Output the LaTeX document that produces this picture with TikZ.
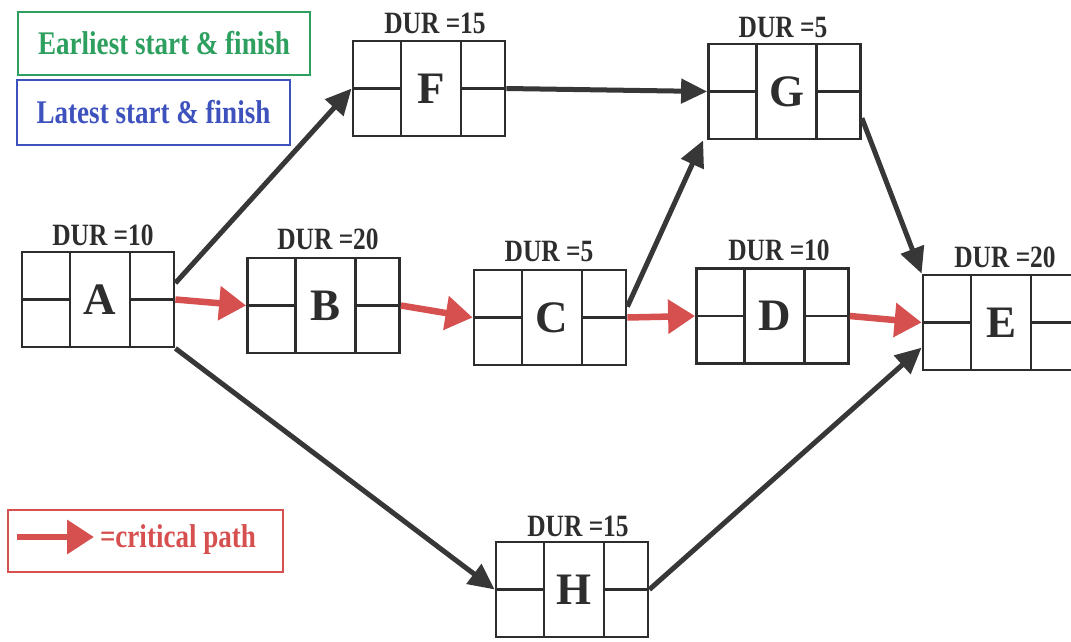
\documentclass[tikz,border=0pt]{standalone}
\usepackage{fontspec}
\usepackage{graphicx}
\setmainfont{Liberation Serif}
\usetikzlibrary{arrows.meta}
\definecolor{boxcol}{RGB}{45,45,45}
\definecolor{arrcol}{RGB}{55,55,55}
\definecolor{critred}{RGB}{214,80,80}
\definecolor{leggreen}{RGB}{45,160,95}
\definecolor{legblue}{RGB}{62,82,190}
\newcommand\durfont{\bfseries\fontsize{31}{34}\selectfont}
\newcommand\letterfont{\bfseries\fontsize{45}{50}\selectfont}
\newcommand\legfont{\bfseries\fontsize{33}{36}\selectfont}
\newcommand\cond[1]{\scalebox{0.82}[1]{#1}}
\tikzset{
  actbox/.style={draw=boxcol, line width=2.8pt, minimum width=152pt, minimum height=95pt,
    inner sep=0pt, font=\letterfont, text=boxcol,
    path picture={
      \draw[boxcol, line width=2.6pt]
        ([xshift=48pt]path picture bounding box.north west) -- ([xshift=48pt]path picture bounding box.south west)
        ([xshift=-44pt]path picture bounding box.north east) -- ([xshift=-44pt]path picture bounding box.south east)
        (path picture bounding box.west) -- ([xshift=48pt]path picture bounding box.west)
        ([xshift=-44pt]path picture bounding box.east) -- (path picture bounding box.east);
    }},
  durlbl/.style={anchor=south, inner sep=0pt, font=\durfont, text=boxcol},
  legbox/.style={line width=2.6pt, inner sep=0pt, font=\legfont},
  blackarrow/.style={draw=arrcol, line width=5pt, -{Triangle[length=26pt,width=24pt]}},
  redarrow/.style={draw=critred, line width=6.5pt, -{Triangle[length=27pt,width=33pt]}},
}
\begin{document}
\begin{tikzpicture}[x=1pt,y=-1pt]
\useasboundingbox (0,0) rectangle (1071,642);
\clip (0,0) rectangle (1071,642);
\fill[white] (0,0) rectangle (1071,642);

% legend
\node[legbox, draw=leggreen, text=leggreen, minimum width=292pt, minimum height=63pt] (early) at (164,43.5) {\cond{Earliest start \& finish}};
\node[legbox, draw=legblue, text=legblue, minimum width=273pt, minimum height=65pt] (late) at (153.5,112.5) {\cond{Latest start \& finish}};
\node[legbox, draw=critred, minimum width=275pt, minimum height=62pt] (crit) at (145.5,541) {};
\coordinate (cpa) at (17,537);
\coordinate (cpb) at (94,537);
\draw[redarrow] (cpa) -- (cpb);
\node[inner sep=0pt, font=\legfont, text=critred] (cptxt) at (178,540) {\cond{=critical path}};

% activity nodes
\node[actbox] (A) at (98,299.5) {\hspace*{4pt}A};
\node[actbox] (B) at (323.5,305.5) {\hspace*{4pt}B};
\node[actbox] (C) at (550,317.5) {\hspace*{4pt}C};
\node[actbox] (D) at (772.5,316) {\hspace*{4pt}D};
\node[actbox] (E) at (999,322.5) {\hspace*{4pt}E};
\node[actbox] (F) at (429,88.5) {\hspace*{4pt}F};
\node[actbox] (G) at (784.5,91.5) {\hspace*{4pt}G};
\node[actbox] (H) at (572,589.5) {\hspace*{4pt}H};

% duration labels
\node[durlbl] (Adur) at ([xshift=5pt,yshift=5pt]A.north) {\cond{DUR =10}};
\node[durlbl] (Bdur) at ([xshift=4.5pt,yshift=7pt]B.north) {\cond{DUR =20}};
\node[durlbl] (Cdur) at ([xshift=-1pt,yshift=7pt]C.north) {\cond{DUR =5}};
\node[durlbl] (Ddur) at ([xshift=6.5pt,yshift=6pt]D.north) {\cond{DUR =10}};
\node[durlbl] (Edur) at ([xshift=6pt,yshift=6pt]E.north) {\cond{DUR =20}};
\node[durlbl] (Fdur) at ([xshift=6pt,yshift=6pt]F.north) {\cond{DUR =15}};
\node[durlbl] (Gdur) at ([xshift=-1.5pt,yshift=5pt]G.north) {\cond{DUR =5}};
\node[durlbl] (Hdur) at ([xshift=6pt,yshift=4pt]H.north) {\cond{DUR =15}};

% connectors
\draw[blackarrow] (A.12) -- (F.west);
\draw[blackarrow] (A.south east) -- (H.west);
\draw[blackarrow] (F.east) -- (G.west);
\draw[blackarrow] (C.8) -- ([xshift=-4pt]G.south west);
\draw[blackarrow] (G.-19) -- (E.north west);
\draw[blackarrow] (H.east) -- (E.198);
\draw[redarrow] (A.east) -- (B.west);
\draw[redarrow] (B.east) -- (C.west);
\draw[redarrow] (C.east) -- (D.west);
\draw[redarrow] (D.east) -- (E.west);
\end{tikzpicture}
\end{document}
